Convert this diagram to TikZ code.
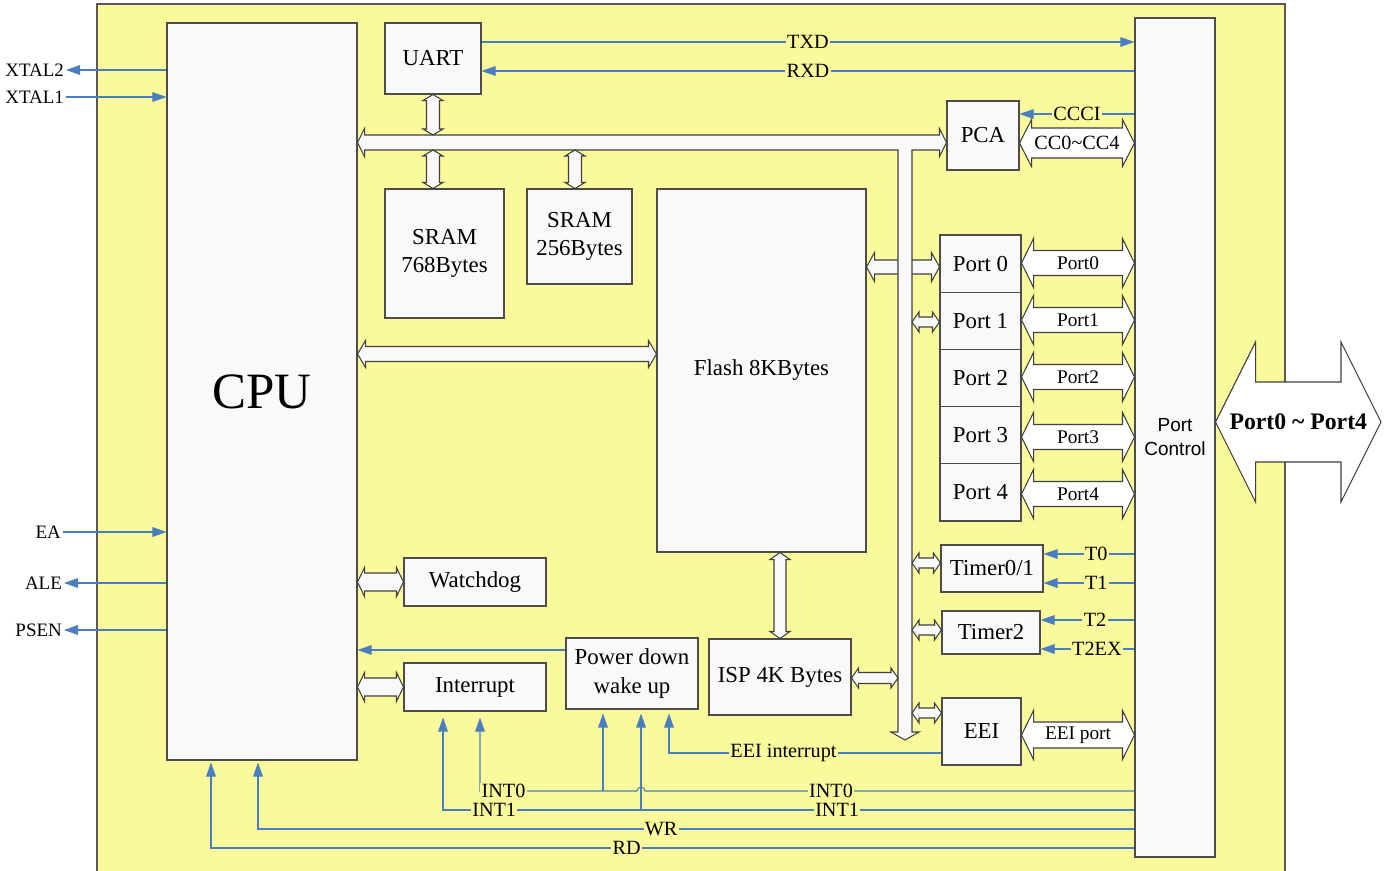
\documentclass[tikz,border=0pt]{standalone}
\usepackage{fontspec}
\setmainfont{Liberation Serif}
\newfontfamily\pcfont{Liberation Sans}
\usetikzlibrary{arrows.meta,calc}

\definecolor{bgyellow}{RGB}{250,249,155}
\definecolor{boxgray}{RGB}{249,249,249}
\definecolor{sigblue}{RGB}{74,126,193}

\newdimen\px \px=0.02cm

% horizontal block arrow: [label]{from}{to}{y}{half shaft}{half head}{head length}
\newcommand{\hdarr}[7][]{%
  \coordinate (da) at (#2 |- 0,#4);
  \coordinate (db) at (#3 |- 0,#4);
  \draw[blkarr] (da) -- ++(#7,#6) -- ++(0,#5-#6) -- ($(db)+(-#7,#5)$) -- ++(0,#6-#5)
    -- (db) -- ++(-#7,-#6) -- ++(0,#6-#5) -- ($(da)+(#7,-#5)$) -- ++(0,#5-#6) -- cycle;
  \if\relax\detokenize{#1}\relax\else
    \node[inner sep=0pt] at ($(da)!.5!(db)$) {#1};
  \fi}
% vertical block arrow: {from}{to}{x}{half shaft}{half head}{head length}
\newcommand{\vdarr}[6]{%
  \coordinate (da) at (#3,0 |- #1);
  \coordinate (db) at (#3,0 |- #2);
  \draw[blkarr] (da) -- ++(#5,#6) -- ++(#4-#5,0) -- ($(db)+(#4,-#6)$) -- ++(#5-#4,0)
    -- (db) -- ++(-#5,-#6) -- ++(#5-#4,0) -- ($(da)+(-#4,#6)$) -- ++(#4-#5,0) -- cycle;}

\begin{document}
\begin{tikzpicture}[x=0.02cm, y=-0.02cm,
    blk/.style={draw=black!70, fill=boxgray, line width=0.6pt, inner sep=0pt,
      align=center, font=\fontsize{13}{16}\selectfont},
    blkarr/.style={draw=black!75, fill=boxgray, line width=0.6pt},
    sig/.style={draw=sigblue, line width=0.6pt},
    arr/.style={-{Triangle[length=8pt,width=5.5pt]}},
    lbl/.style={fill=bgyellow, inner sep=0.8pt, font=\fontsize{11.5}{12}\selectfont},
    pin/.style={inner sep=1pt, anchor=east, font=\fontsize{10.8}{12}\selectfont}]
    % Block diagram of the microcontroller

    \useasboundingbox (0,0) rectangle (1387,870);

    % Chip
    \draw[fill=bgyellow, draw=black!65, line width=0.6pt] (97,4) rectangle (1285,880);

    % Blocks
    \node[blk, minimum width=190\px, minimum height=737\px, font=\fontsize{29}{30}\selectfont] (cpu) at (262,391.5) {CPU};
    \node[blk, minimum width=96\px, minimum height=71\px] (uart) at (433,58.5) {UART};
    \node[blk, minimum width=119\px, minimum height=129\px] (sram1) at (444.5,253.5) {SRAM\\768Bytes};
    \node[blk, minimum width=105\px, minimum height=95\px] (sram2) at (579.5,236.5) {SRAM\\256Bytes};
    \node[blk, minimum width=209\px, minimum height=363\px] (flash) at (761.5,370.5) {Flash 8KBytes};
    \node[blk, minimum width=72\px, minimum height=69\px] (pca) at (983,135.5) {PCA};
    \foreach \i/\y in {0/263.6,1/320.8,2/378,3/435.2,4/492.4}
      \node[blk, minimum width=81\px, minimum height=57.2\px] (port\i) at (980.5,\y) {Port \i};
    \node[blk, minimum width=102\px, minimum height=47\px] (timer01) at (992,568.5) {Timer0/1};
    \node[blk, minimum width=98\px, minimum height=43\px] (timer2) at (991,632.5) {Timer2};
    \node[blk, minimum width=79\px, minimum height=67\px] (eei) at (981.5,731.5) {EEI};
    \node[blk, minimum width=142\px, minimum height=48\px] (wdog) at (475,582) {Watchdog};
    \node[blk, minimum width=142\px, minimum height=48\px] (intr) at (475,687) {Interrupt};
    \node[blk, minimum width=132\px, minimum height=71\px] (pwr) at (632,673.5) {Power down\\wake up};
    \node[blk, minimum width=142\px, minimum height=76\px] (isp) at (780,677) {ISP 4K Bytes};
    \node[blk, minimum width=80\px, minimum height=839\px, font=\pcfont\fontsize{10.8}{13.6}\selectfont] (pc) at (1175,437.5) {Port\\Control};

    % Internal bus
    \coordinate (busn) at (0,135);
    \coordinate (buss) at (0,150);
    \coordinate (busw) at (898,0);
    \coordinate (buse) at (912,0);
    \coordinate (busl) at (cpu.east |- 0,142.5);
    \coordinate (busr) at (pca.west |- 0,142.5);
    \coordinate (busend) at (905,740);
    \hdarr{flash.east}{port0.west}{267}{7}{14.5}{8}
    \draw[blkarr] (busl) -- ++(7,-14) -- ++(0,6.5) -- ($(busr)+(-7,-7.5)$) -- ++(0,-6.5)
      -- (busr) -- ++(-7,14) -- ++(0,-6.5) -- ($(busend)+(7,-590)$) -- ($(busend)+(7,-8)$)
      -- ++(7,0) -- (busend) -- ++(-14,-8) -- ++(7,0) -- ($(busend)+(-7,-590)$)
      -- ($(busl)+(7,7.5)$) -- ++(0,6.5) -- cycle;

    \vdarr{uart.south}{busn}{433}{6.5}{10}{6}
    \vdarr{buss}{sram1.north}{433}{6.5}{10}{6}
    \vdarr{buss}{sram2.north}{575}{6.5}{10}{6}
    \hdarr{cpu.east}{flash.west}{354}{7.5}{13.5}{8}
    \vdarr{flash.south}{isp.north}{780}{6}{10}{7}
    \hdarr{isp.east}{busw}{678}{5.5}{10}{7}
    \hdarr{cpu.east}{wdog.west}{582}{9}{14.5}{7}
    \hdarr{cpu.east}{intr.west}{687}{9}{14.5}{7}
    \foreach \y/\n in {322/port1,563/timer01,630/timer2,713/eei}
      {\hdarr{buse}{\n.west}{\y}{5}{10}{7}}

    % Port control side
    \begin{scope}[blkarr/.append style={fill=white}]
    \hdarr[{\fontsize{11.5}{12}\selectfont CC0\textasciitilde CC4}]{pca.east}{pc.west}{143}{15}{23.5}{12}
    \foreach \i/\y in {0/263,1/320,2/377,3/437,4/494}
      {\hdarr[{\fontsize{11}{12}\selectfont Port\i}]{port\i.east}{pc.west}{\y}{12.5}{24.5}{12}}
    \hdarr[{\fontsize{11}{12}\selectfont EEI port}]{eei.east}{pc.west}{735}{13}{24.5}{12}
    \coordinate (pins) at (1381,0);
    \hdarr[{\bfseries\fontsize{13.5}{14}\selectfont Port0 \textasciitilde{} Port4}]{pc.east}{pins}{422}{40}{80}{40}
    \end{scope}

    % Serial port and PCA
    \draw[sig, arr] (uart.east |- 0,42) -- node[lbl]{TXD} (pc.west |- 0,42);
    \draw[sig, arr] (pc.west |- 0,71) -- node[lbl]{RXD} (uart.east |- 0,71);
    \draw[sig, arr] (pc.west |- 0,114) -- node[lbl]{CCCI} (pca.east |- 0,114);

    % Timer inputs
    \draw[sig, arr] (pc.west |- 0,554) -- node[lbl, pos=.42]{T0} (timer01.east |- 0,554);
    \draw[sig, arr] (pc.west |- 0,583) -- node[lbl, pos=.42]{T1} (timer01.east |- 0,583);
    \draw[sig, arr] (pc.west |- 0,620) -- node[lbl, pos=.42]{T2} (timer2.east |- 0,620);
    \draw[sig, arr] (pc.west |- 0,649) -- node[lbl, pos=.4]{T2EX} (timer2.east |- 0,649);

    % Power down
    \draw[sig, arr] (pwr.west |- 0,650) -- (cpu.east |- 0,650);
    \draw[sig, arr, shorten >=4\px] (eei.west |- 0,753) -- node[lbl, pos=.58]{EEI interrupt} (669,753) -- (669,0 |- pwr.south);

    % External interrupts, WR and RD
    \coordinate (int0) at (603,791);
    \coordinate (int1) at (641,810);
    \draw[sig, arr, shorten >=6\px] (pc.west |- int0) -- node[lbl, pos=.62]{INT0} ($(int1 |- int0)+(4,0)$)
      arc[start angle=0, end angle=180, radius=4\px] -- node[lbl, pos=.85]{INT0} (480,791) -- (480,0 |- intr.south);
    \draw[sig, arr, shorten >=4\px] (int0) -- (int0 |- pwr.south);
    \draw[sig, arr, shorten >=6\px] (pc.west |- int1) -- node[lbl, pos=.43]{INT1} node[lbl, pos=.926]{INT1} (443,810) -- (443,0 |- intr.south);
    \draw[sig, arr, shorten >=4\px] (int1) -- (int1 |- pwr.south);
    \draw[sig, arr, shorten >=2\px] (pc.west |- 0,829) -- node[lbl, pos=.54]{WR} (258,829) -- (258,0 |- cpu.south);
    \draw[sig, arr, shorten >=2\px] (pc.west |- 0,848) -- node[lbl, pos=.55]{RD} (211,848) -- (211,0 |- cpu.south);

    % Pins
    \node[pin] (xtal2) at (66,70) {XTAL2};
    \node[pin] (xtal1) at (66,97) {XTAL1};
    \node[pin] (ea) at (63,532) {EA};
    \node[pin] (ale) at (64,583) {ALE};
    \node[pin] (psen) at (64,630) {PSEN};
    \draw[sig, arr] (cpu.west |- xtal2) -- (xtal2.east);
    \draw[sig, arr] (xtal1.east) -- (cpu.west |- xtal1);
    \draw[sig, arr] (ea.east) -- (cpu.west |- ea);
    \draw[sig, arr] (cpu.west |- ale) -- (ale.east);
    \draw[sig, arr] (cpu.west |- psen) -- (psen.east);
\end{tikzpicture}
\end{document}
